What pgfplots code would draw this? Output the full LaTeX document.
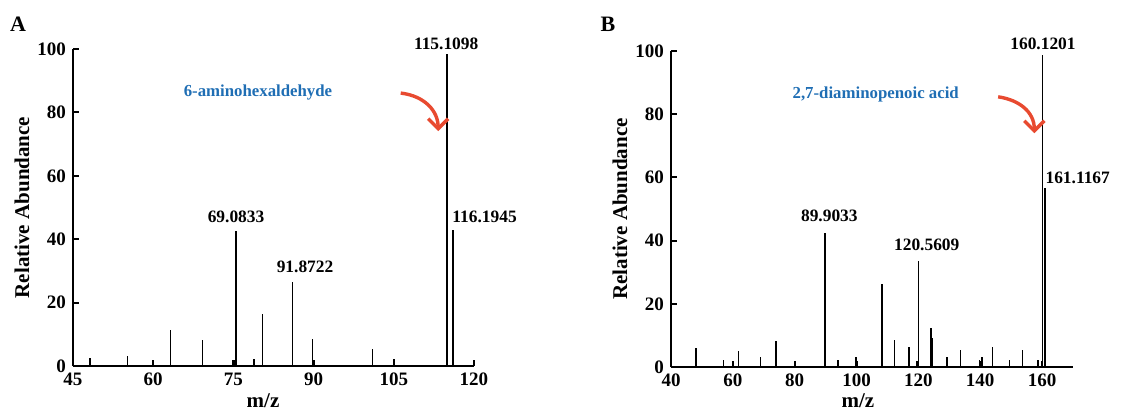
\documentclass[border=0pt]{standalone}
\usepackage{pgfplots}
\pgfplotsset{compat=1.18}
\usepackage{fontspec}
\setmainfont{Liberation Serif}
\usetikzlibrary{arrows.meta}

\definecolor{annblue}{RGB}{31,110,180}
\definecolor{arrred}{RGB}{232,74,48}

\pgfplotsset{
  msstyle/.style={
    scale only axis,
    anchor=south west,
    clip=false,
    ymin=0, ymax=100,
    ytick={0,20,40,60,80,100},
    axis x line*=bottom,
    axis y line*=left,
    axis line style={line width=1.1pt,-},
    major tick style={line width=1pt,black},
    major tick length=3pt,
    tick align=inside,
    /pgf/number format/assume math mode=true,
    tick label style={font=\fontsize{9.5}{11}\selectfont\bfseries},
    ylabel={Relative Abundance},
    xlabel={m/z},
    every axis y label/.style={at={(axis description cs:-0.127,0.5)},rotate=90,anchor=center,
      font=\fontsize{10.5}{12}\selectfont\bfseries},
  },
  peak/.style={ycomb, black, no marks, line width=0.75pt},
}
\tikzset{
  plab/.style={font=\fontsize{8.7}{10}\selectfont\bfseries, inner sep=0pt},
  ann/.style={font=\fontsize{8.4}{10}\selectfont\bfseries, text=annblue, inner sep=0pt},
  arr/.style={arrred, line width=1.7pt, -{Straight Barb[length=5pt,width=10pt]}},
  xlab/.style={anchor=center, font=\fontsize{10.5}{12}\selectfont\bfseries},
}

\begin{document}
\begin{tikzpicture}

% panel A
\begin{axis}[msstyle,
  at={(0,0)},
  width=200.5pt, height=158.5pt,
  xmin=45, xmax=120,
  xtick={45,60,75,90,105,120},
  every axis x label/.style={at={(axis description cs:0.474,-0.108)},xlab},
]
\addplot[peak] coordinates {
(48.2,2.4) (55.2,3.1) (60.1,1.9) (63.2,11.3) (69.2,8.3) (75.1,1.9)
(75.5,42.5) (78.9,2.3) (80.4,16.3) (86.1,26.5) (89.75,8.4) (90.1,1.9)
(101.0,5.3) (105.0,2.1) (115.0,98.5) (116.1,43.0)
};
\node[plab,anchor=south] at (axis cs:114.8,99.6) {115.1098};
\node[plab,anchor=west] at (axis cs:115.9,47) {116.1945};
\node[plab] at (axis cs:75.5,47) {69.0833};
\node[plab] at (axis cs:88.4,31.2) {91.8722};
\node[ann] at (axis cs:79.6,86.4) {6-aminohexaldehyde};
\draw[arr] (axis cs:106.3,86.1) .. controls (axis cs:110.8,85.2) and (axis cs:113.3,80.4) .. (axis cs:113.3,74.1);
\end{axis}

% panel B
\begin{axis}[msstyle,
  at={(299pt,-0.5pt)},
  width=201pt, height=158pt,
  xmin=40, xmax=170,
  xtick={40,60,80,100,120,140,160},
  every axis x label/.style={at={(axis description cs:0.465,-0.108)},xlab},
]
\addplot[peak] coordinates {
(48.05,6.1) (57.0,2.3) (60.1,2.0) (61.9,5.2) (68.9,3.1) (74.0,8.2)
(79.9,2.0) (89.8,42.5) (94.0,2.3) (99.7,2.1) (99.9,3.2) (108.3,26.3)
(112.3,8.4) (117.0,6.25) (119.5,2.0) (120.0,33.6) (124.0,12.2) (124.6,9.3)
(129.2,3.3) (133.6,5.3) (139.7,2.1) (140.5,3.2) (144.0,6.25) (149.4,2.3)
(153.7,5.3) (158.6,2.3) (160.1,98.8) (160.9,56.5)
};
\node[plab] at (axis cs:160.3,102.2) {160.1201};
\node[plab,anchor=west] at (axis cs:161.0,59.8) {161.1167};
\node[plab] at (axis cs:91.2,47.8) {89.9033};
\node[plab] at (axis cs:122.7,38.6) {120.5609};
\node[ann] at (axis cs:106.2,86.1) {2,7-diaminopenoic acid};
\draw[arr] (axis cs:145.8,85.5) .. controls (axis cs:152.7,84.5) and (axis cs:157.5,80.7) .. (axis cs:157.5,74.0);
\end{axis}

\node[font=\fontsize{11}{12}\selectfont\bfseries] at (-27.5pt,171pt) {A};
\node[font=\fontsize{11}{12}\selectfont\bfseries] at (267.5pt,171pt) {B};

\pgfresetboundingbox
\path[use as bounding box] (-36.5pt,-24pt) rectangle (529pt,183pt);
\end{tikzpicture}
\end{document}
